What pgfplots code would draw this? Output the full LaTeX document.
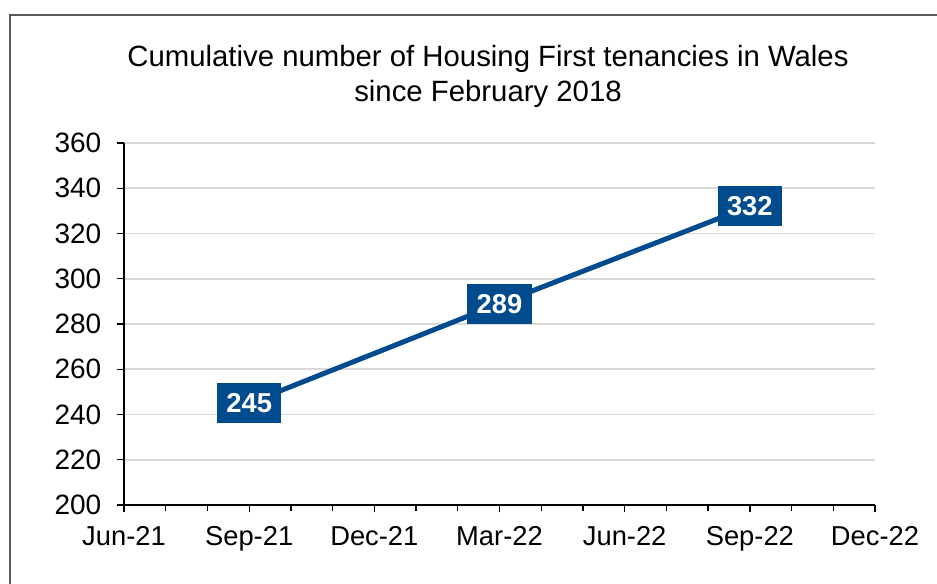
\documentclass[border=0pt]{standalone}
\usepackage{fontspec}
\setmainfont{Liberation Sans}
\usepackage{pgfplots}
\pgfplotsset{compat=1.18}
\definecolor{hfblue}{RGB}{0,75,141}
\definecolor{gridgray}{RGB}{217,217,217}
\definecolor{framegray}{RGB}{89,89,89}

\begin{document}
\begin{tikzpicture}[x=1pt,y=1pt]
% 1px = 0.75pt; axis lower-left sits at the origin
\useasboundingbox (-93,-58.5) rectangle (609.75,378.75);
\draw[framegray, line width=1.1pt] (-85.5,-70) -- (-85.5,367.5) -- (620,367.5);
\node[align=center, font=\fontsize{22}{26.25}\selectfont] at (273,321.4)
  {Cumulative number of Housing First tenancies in Wales\\since February 2018};
\begin{axis}[
    at={(0,0)}, anchor=origin,
    scale only axis,
    width=563.25pt, height=271.5pt,
    xmin=0, xmax=18,
    ymin=200, ymax=360,
    axis lines*=left,
    axis line style={line width=1pt, -},
    xtick={0,3,...,18},
    xticklabels={Jun-21,Sep-21,Dec-21,Mar-22,Jun-22,Sep-22,Dec-22},
    minor xtick={0,...,18},
    ytick={200,220,...,360},
    tick align=outside,
    major tick length=5.5pt,
    minor tick length=4.5pt,
    tick style={black, line width=1pt},
    ymajorgrids,
    major grid style={gridgray, line width=1.2pt},
    /pgf/number format/assume math mode=true,
    xticklabel style={font=\fontsize{20.5}{24}\selectfont, yshift=-7pt},
    yticklabel style={font=\fontsize{21}{24}\selectfont, xshift=-8pt},
    clip=false,
]
\addplot[hfblue, line width=3.75pt,
    nodes near coords,
    nodes near coords align={center},
    every node near coord/.append style={anchor=center, fill=hfblue, text=white,
        font=\fontsize{20.5}{24}\bfseries\selectfont,
        inner xsep=7pt, inner ysep=0pt, minimum height=30pt},
    ] coordinates {
    (3,245) (9,289) (15,332)
};
\end{axis}
\end{tikzpicture}
\end{document}
